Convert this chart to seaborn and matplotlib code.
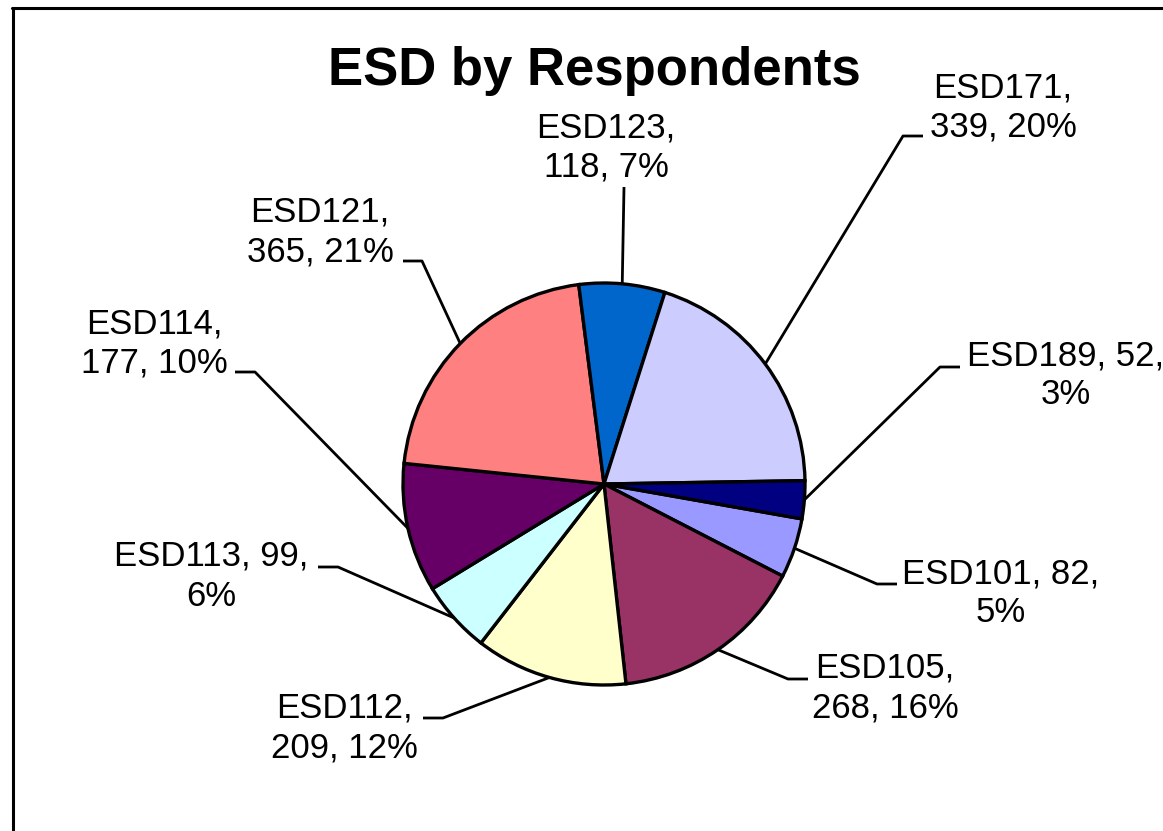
import matplotlib
matplotlib.use("Agg")
import matplotlib.pyplot as plt
from matplotlib.lines import Line2D
import seaborn as sns
import numpy as np

# Respondents per Educational Service District
districts = ["ESD101", "ESD105", "ESD112", "ESD113", "ESD114",
             "ESD121", "ESD123", "ESD171", "ESD189"]
respondents = [82, 268, 209, 99, 177, 365, 118, 339, 52]
slice_colors = ["#9999FF", "#993366", "#FFFFCC", "#CCFFFF", "#660066",
                "#FF8080", "#0066CC", "#CCCCFF", "#000080"]

sns.set_theme(style="white")
plt.rcParams["font.family"] = ["Liberation Sans", "DejaVu Sans"]

W, H = 1163, 831
fig = plt.figure(figsize=(W / 100, H / 100), dpi=100)
ax = fig.add_axes([0, 0, 1, 1])


def up(y):
    """Convert a top-down pixel row to the axes' upward y."""
    return H - y


cx, cy, r = 604, up(484), 201
wedges, _ = ax.pie(
    respondents, colors=slice_colors, startangle=-10, counterclock=False,
    center=(cx, cy), radius=r,
    wedgeprops=dict(edgecolor="black", linewidth=2.4),
)
ax.set_xlim(0, W)
ax.set_ylim(0, H)
ax.set_aspect("equal")
ax.axis("off")

total = sum(respondents)
# label layout: text center x and first baseline, elbow, end of horizontal stub
label_pos = [(1001, 583), (885, 678), (344, 718), (211, 566), (154, 333),
             (320, 222), (606, 137), (1003, 97), (1066, 365)]
elbows = [(877, 584), (788, 679), (443, 718), (338, 567), (255, 372),
          (422, 261), (624, 187), (903, 136), (940, 367)]
stubs = [(897, 584), (808, 679), (423, 718), (318, 567), (235, 372),
         (403, 261), (624, 187), (923, 136), (960, 367)]
wrap_after_value = [True, False, False, True, False, False, False, False, True]
line_gap = 39.5

for w, name, v, (tx, ty), el, st, wrap in zip(
        wedges, districts, respondents, label_pos, elbows, stubs,
        wrap_after_value):
    pct = round(v / total * 100)
    if wrap:
        lines = [f"{name}, {v},", f"{pct}%"]
    else:
        lines = [f"{name},", f"{v}, {pct}%"]
    for i, line in enumerate(lines):
        ax.text(tx, up(ty + i * line_gap), line, ha="center", va="baseline",
                fontsize=25, color="black")
    mid = np.deg2rad((w.theta1 + w.theta2) / 2)
    ax_x = cx + r * np.cos(mid)
    ax_y = cy + r * np.sin(mid)
    ax.plot([ax_x, el[0], st[0]], [ax_y, up(el[1]), up(st[1])],
            color="black", lw=2.0, solid_capstyle="butt", zorder=3)

fig.text(594 / W, up(85) / H, "ESD by Respondents", ha="center",
         va="baseline", fontsize=38, fontweight="bold", color="black")

# chart-area frame (left and top edges)
fig.add_artist(Line2D([12.5 / W, 12.5 / W], [0, up(8) / H],
                      transform=fig.transFigure, color="black", lw=2.2))
fig.add_artist(Line2D([11.5 / W, 1], [up(8) / H, up(8) / H],
                      transform=fig.transFigure, color="black", lw=2.2))

fig.savefig("out.png", dpi=100, facecolor="white")
